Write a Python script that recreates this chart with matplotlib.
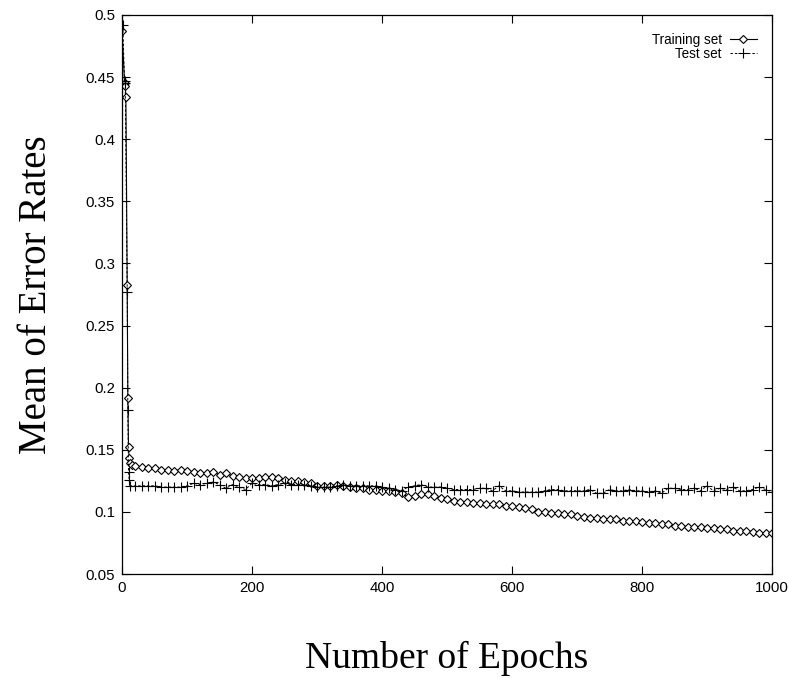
import matplotlib
matplotlib.use("Agg")
import matplotlib.pyplot as plt

train_x_early = [0, 4, 5, 6, 8, 9, 10, 11, 12, 15]
train_y_early = [0.487, 0.445, 0.443, 0.434, 0.283, 0.192, 0.152, 0.143, 0.139, 0.138]
train_x_reg = list(range(20, 1001, 10))
train_y_reg = [
    0.137, 0.136, 0.135, 0.135, 0.134, 0.134, 0.133, 0.134, 0.133,
    0.132, 0.131, 0.131, 0.132, 0.130, 0.131, 0.129, 0.128, 0.127, 0.127,
    0.127, 0.128, 0.128, 0.127, 0.126, 0.125, 0.125, 0.124, 0.123, 0.121,
    0.121, 0.121, 0.122, 0.121, 0.120, 0.119, 0.119, 0.118, 0.118, 0.117,
    0.117, 0.116, 0.115, 0.112, 0.113, 0.114, 0.114, 0.113, 0.111, 0.110,
    0.109, 0.108, 0.108, 0.107, 0.107, 0.106, 0.106, 0.106, 0.105, 0.105,
    0.104, 0.103, 0.102, 0.100, 0.100, 0.099, 0.099, 0.098, 0.098, 0.097,
    0.096, 0.095, 0.095, 0.094, 0.094, 0.094, 0.093, 0.093, 0.093, 0.092,
    0.091, 0.091, 0.090, 0.090, 0.089, 0.089, 0.088, 0.088, 0.088, 0.087,
    0.087, 0.086, 0.086, 0.085, 0.085, 0.085, 0.084, 0.083, 0.083, 0.083,
]

test_x_early = [0, 1, 4, 5, 8, 9, 10, 11, 12]
test_y_early = [0.0, 0.492, 0.447, 0.445, 0.277, 0.182, 0.132, 0.126, 0.121]
test_x_reg = list(range(20, 1001, 10))
test_y_reg = [
    0.121, 0.121, 0.121, 0.121, 0.120, 0.120, 0.120, 0.120, 0.121,
    0.123, 0.122, 0.123, 0.124, 0.122, 0.119, 0.122, 0.120, 0.118, 0.123,
    0.122, 0.122, 0.121, 0.122, 0.123, 0.122, 0.122, 0.122, 0.121, 0.120,
    0.120, 0.120, 0.121, 0.122, 0.121, 0.121, 0.121, 0.121, 0.121, 0.120,
    0.119, 0.118, 0.117, 0.120, 0.121, 0.122, 0.120, 0.120, 0.120, 0.119,
    0.118, 0.118, 0.118, 0.118, 0.119, 0.119, 0.117, 0.121, 0.117, 0.117,
    0.116, 0.116, 0.116, 0.116, 0.117, 0.118, 0.118, 0.117, 0.117, 0.117,
    0.117, 0.118, 0.115, 0.115, 0.118, 0.117, 0.117, 0.118, 0.117, 0.117,
    0.116, 0.117, 0.115, 0.119, 0.119, 0.118, 0.118, 0.119, 0.117, 0.121,
    0.117, 0.119, 0.118, 0.120, 0.117, 0.117, 0.118, 0.120, 0.118, 0.116,
]

train_x = train_x_early + train_x_reg
train_y = train_y_early + train_y_reg
test_x = test_x_early + test_x_reg
test_y = test_y_early + test_y_reg

xticks = [0, 200, 400, 600, 800, 1000]
yticks = [0.05, 0.1, 0.15, 0.2, 0.25, 0.3, 0.35, 0.4, 0.45, 0.5]
ytick_labels = ["0.05", "0.1", "0.15", "0.2", "0.25", "0.3", "0.35", "0.4", "0.45", "0.5"]

fig = plt.figure(figsize=(7.89, 6.78), dpi=100)
ax = fig.add_axes([122 / 789, 1 - 574 / 678, 650 / 789, 559 / 678])

ax.plot(train_x, train_y, color="black", lw=0.8, marker="D", markersize=4,
        markerfacecolor="white", markeredgecolor="black", markeredgewidth=0.8,
        label="Training set")
ax.plot(test_x, test_y, color="black", lw=0.7, linestyle=(0, (2.5, 2)),
        marker="+", markersize=7, markeredgewidth=0.8, label="Test set")

ax.set_xlim(0, 1000)
ax.set_ylim(0.05, 0.5)
ax.set_xticks(xticks)
ax.set_xticklabels([str(v) for v in xticks], family="Liberation Sans", fontsize=10.8)
ax.set_yticks(yticks)
ax.set_yticklabels(ytick_labels, family="Liberation Sans", fontsize=10.8)
ax.tick_params(direction="in", length=6, width=0.8, top=True, right=True, pad=5)
for s in ax.spines.values():
    s.set_linewidth(0.9)

ax.set_xlabel("Number of Epochs", family="Liberation Serif", fontsize=27, labelpad=33)
ax.set_ylabel("Mean of Error Rates", family="Liberation Serif", fontsize=28, labelpad=22)

leg = ax.legend(loc="upper right", frameon=False, markerfirst=False,
                prop={"family": "Liberation Sans", "size": 9.75},
                handlelength=2.0, handletextpad=0.6, labelspacing=-0.02,
                borderaxespad=0, borderpad=0,
                bbox_to_anchor=((757 - 122) / 650, 1 - (33 - 15) / 559))
for t in leg.get_texts():
    t.set_ha("right")

fig.savefig("out.png", dpi=100)
